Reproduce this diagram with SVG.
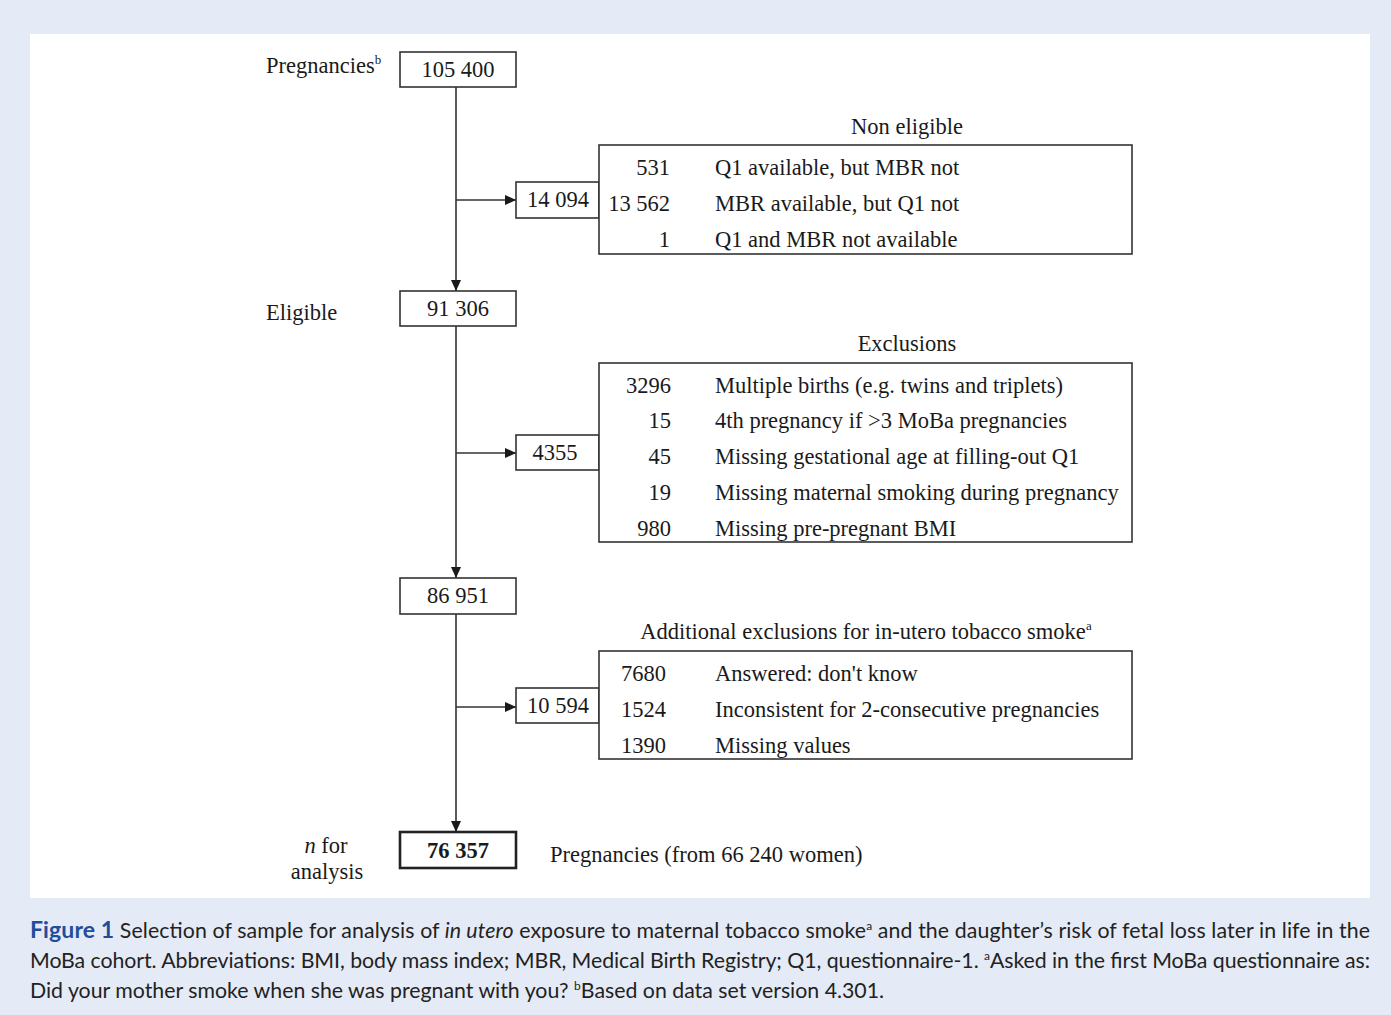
<svg xmlns="http://www.w3.org/2000/svg" width="1391" height="1015" viewBox="0 0 1391 1015">
<style>
.bg{fill:#e5ebf6}
.panel{fill:#ffffff}
.box{fill:#ffffff;stroke:#333333;stroke-width:1.6}
.boxb{fill:#ffffff;stroke:#222222;stroke-width:2.6}
.t{font-family:"Liberation Serif","Times New Roman",serif;font-size:22.5px;fill:#1a1a1a}
.c{text-anchor:middle}
.r{text-anchor:end}
.conn{stroke:#333333;stroke-width:1.6;fill:none}
.cap{font-family:Lato,"Open Sans","Liberation Sans",sans-serif;font-size:21.3px;fill:#222222}
.fig{font-weight:bold;fill:#1f4e9c}
</style>
<defs>
<marker id="ah" markerUnits="userSpaceOnUse" markerWidth="11" markerHeight="10" refX="11" refY="5" orient="auto">
<path d="M0,0 L11,5 L0,10 z" fill="#1a1a1a"/>
</marker>
</defs>
<rect class="bg" x="0" y="0" width="1391" height="1015"/>
<rect class="panel" x="30" y="34" width="1340" height="864"/>

<g id="connectors">
<line class="conn" x1="456" y1="87" x2="456" y2="291" marker-end="url(#ah)"/>
<line class="conn" x1="456" y1="200" x2="516" y2="200" marker-end="url(#ah)"/>
<line class="conn" x1="456" y1="326" x2="456" y2="578" marker-end="url(#ah)"/>
<line class="conn" x1="456" y1="453" x2="516" y2="453" marker-end="url(#ah)"/>
<line class="conn" x1="456" y1="614" x2="456" y2="832" marker-end="url(#ah)"/>
<line class="conn" x1="456" y1="707" x2="516" y2="707" marker-end="url(#ah)"/>
</g>

<g id="n-pregnancies">
<text class="t" x="266" y="73">Pregnancies<tspan font-size="13" dy="-9">b</tspan></text>
<rect class="box" x="400" y="52" width="116" height="35"/>
<text class="t c" x="458" y="77">105 400</text>
</g>

<g id="n-noneligible-count">
<rect class="box" x="516" y="182" width="83" height="36"/>
<text class="t c" x="558" y="207">14 094</text>
</g>

<g id="n-noneligible">
<text class="t c" x="907" y="134">Non eligible</text>
<rect class="box" x="599" y="145" width="533" height="109"/>
<text class="t r" x="670" y="175">531</text>
<text class="t" x="715" y="175">Q1 available, but MBR not</text>
<text class="t r" x="670" y="211">13 562</text>
<text class="t" x="715" y="211">MBR available, but Q1 not</text>
<text class="t r" x="670" y="247">1</text>
<text class="t" x="715" y="247">Q1 and MBR not available</text>
</g>

<g id="n-eligible">
<text class="t" x="266" y="320">Eligible</text>
<rect class="box" x="400" y="291" width="116" height="35"/>
<text class="t c" x="458" y="316">91 306</text>
</g>

<g id="n-exclusions-count">
<rect class="box" x="516" y="435" width="83" height="35"/>
<text class="t c" x="555" y="460">4355</text>
</g>

<g id="n-exclusions">
<text class="t c" x="907" y="351">Exclusions</text>
<rect class="box" x="599" y="363" width="533" height="179"/>
<text class="t r" x="671" y="393">3296</text>
<text class="t" x="715" y="393">Multiple births (e.g. twins and triplets)</text>
<text class="t r" x="671" y="428">15</text>
<text class="t" x="715" y="428">4th pregnancy if &gt;3 MoBa pregnancies</text>
<text class="t r" x="671" y="464">45</text>
<text class="t" x="715" y="464">Missing gestational age at filling-out Q1</text>
<text class="t r" x="671" y="500">19</text>
<text class="t" x="715" y="500">Missing maternal smoking during pregnancy</text>
<text class="t r" x="671" y="536">980</text>
<text class="t" x="715" y="536">Missing pre-pregnant BMI</text>
</g>

<g id="n-after-exclusions">
<rect class="box" x="400" y="578" width="116" height="36"/>
<text class="t c" x="458" y="603">86 951</text>
</g>

<g id="n-additional-count">
<rect class="box" x="516" y="688" width="83" height="35"/>
<text class="t c" x="558" y="713">10 594</text>
</g>

<g id="n-additional">
<text class="t c" x="866" y="639">Additional exclusions for in-utero tobacco smoke<tspan font-size="13" dy="-9">a</tspan></text>
<rect class="box" x="599" y="651" width="533" height="108"/>
<text class="t r" x="666" y="681">7680</text>
<text class="t" x="715" y="681">Answered: don't know</text>
<text class="t r" x="666" y="717">1524</text>
<text class="t" x="715" y="717">Inconsistent for 2-consecutive pregnancies</text>
<text class="t r" x="666" y="753">1390</text>
<text class="t" x="715" y="753">Missing values</text>
</g>

<g id="n-analysis">
<text class="t c" x="326" y="853"><tspan font-style="italic">n</tspan> for</text>
<text class="t c" x="327" y="879">analysis</text>
<rect class="boxb" x="400" y="832" width="116" height="36"/>
<text class="t c" x="458" y="858" font-weight="bold">76 357</text>
<text class="t" x="550" y="862">Pregnancies (from 66 240 women)</text>
</g>

<g id="caption">
<text class="cap" x="30" y="938" textLength="1340" lengthAdjust="spacing"><tspan class="fig" font-size="23">Figure 1</tspan>  Selection of sample for analysis of <tspan font-style="italic">in utero</tspan> exposure to maternal tobacco smoke<tspan font-size="12" dy="-8">a</tspan><tspan dy="8"> and the daughter’s risk of fetal loss later in life in the</tspan></text>
<text class="cap" x="30" y="968" textLength="1340" lengthAdjust="spacing">MoBa cohort. Abbreviations: BMI, body mass index; MBR, Medical Birth Registry; Q1, questionnaire-1. <tspan font-size="12" dy="-8">a</tspan><tspan dy="8">Asked in the first MoBa questionnaire as:</tspan></text>
<text class="cap" x="30" y="998">Did your mother smoke when she was pregnant with you? <tspan font-size="12" dy="-8">b</tspan><tspan dy="8">Based on data set version 4.301.</tspan></text>
</g>
</svg>
